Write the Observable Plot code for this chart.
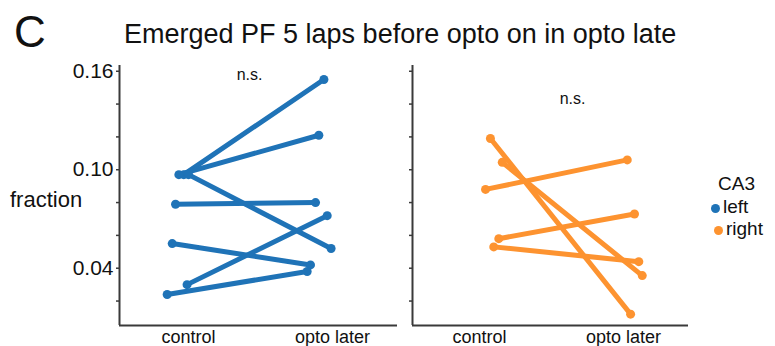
<!DOCTYPE html>
<html>
<head>
<meta charset="utf-8">
<script src="https://cdn.jsdelivr.net/npm/d3@7"></script>
<script src="https://cdn.jsdelivr.net/npm/@observablehq/plot@0.6"></script>
<style>
  body { margin: 0; background: #fff; font-family: "Liberation Sans", Arial, sans-serif; }
  #wrap { position: relative; width: 775px; height: 346px; overflow: hidden; }
  #wrap > * { position: absolute; }
  .lbl { color: #111; white-space: nowrap; line-height: normal; }
</style>
</head>
<body>
<div id="wrap">
  <div id="p1" style="left:0; top:0;"></div>
  <div id="p2" style="left:400px; top:0;"></div>
  <div class="lbl" style="left:14px; top:7px; font-size:44px;">C</div>
  <div class="lbl" style="left:124px; top:19px; font-size:27px;">Emerged PF 5 laps before opto on in opto late</div>
  <div class="lbl" style="left:10px; top:187px; font-size:22px;">fraction</div>
  <div id="legend" style="left:0; top:0;"></div>
</div>
<script>
// categories
const conditions = ["control", "opto later"];
const sides = ["left", "right"];
const legendTitle = "CA3";
const colors = ["#1f73b7", "#fd9330"];
const yTicks = [0.02, 0.04, 0.06, 0.08, 0.10, 0.12, 0.14, 0.16];
const yLabels = [0.04, 0.10, 0.16];

// left CA3: control -> opto later fraction per animal
const leftControl = [0.097, 0.097, 0.097, 0.079, 0.055, 0.030, 0.024];
const leftOpto    = [0.155, 0.121, 0.052, 0.080, 0.042, 0.072, 0.038];
const leftJitC    = [-0.033, -0.067, 0.0, -0.09, -0.113, -0.01, -0.148];
const leftJitO    = [-0.06, -0.095, -0.01, -0.118, -0.153, -0.037, -0.176];

// right CA3
const rightControl = [0.119, 0.1045, 0.088, 0.058, 0.053];
const rightOpto    = [0.012, 0.0355, 0.106, 0.073, 0.044];
const rightJitC    = [0.076, 0.158, 0.042, 0.134, 0.099];
const rightJitO    = [0.049, 0.130, 0.026, 0.076, 0.106];

const yDomain = [0.0051, 0.1635];

function rows(ctrl, opto, jc, jo) {
  const out = [];
  ctrl.forEach((v, i) => {
    out.push({id: i, x: 0 + jc[i], y: v});
    out.push({id: i, x: 1 + jo[i], y: opto[i]});
  });
  return out;
}

function panel(data, color, opts) {
  return Plot.plot({
    width: opts.width, height: 346,
    marginLeft: opts.ml, marginRight: opts.mr, marginTop: 65, marginBottom: 21,
    style: {fontFamily: "Liberation Sans, Arial, sans-serif", color: "#111", background: "transparent", overflow: "visible"},
    x: {domain: opts.xDomain, axis: null},
    y: {domain: yDomain, axis: null},
    marks: [
      Plot.ruleX([opts.xDomain[0]], {y1: yDomain[0], y2: yDomain[1], stroke: "#3a3a3a", strokeWidth: 2}),
      Plot.ruleY([yDomain[0]], {x1: opts.xDomain[0], x2: opts.xDomain[1], stroke: "#3a3a3a", strokeWidth: 2}),
      Plot.axisY({ticks: yTicks, tickSize: 3, tickPadding: 3, stroke: "#3a3a3a", strokeWidth: 1.5, fontSize: 21, label: null,
        tickFormat: d => opts.labels && yLabels.some(v => Math.abs(v - d) < 1e-9) ? d3.format(".2f")(d) : ""}),
      Plot.axisX({ticks: [0, 1], tickSize: 0, tickPadding: 5, fontSize: 18, label: null,
        tickFormat: d => conditions[Math.round(d)]}),
      Plot.line(data, {x: "x", y: "y", z: "id", stroke: color, strokeWidth: 5, strokeLinecap: "round"}),
      Plot.dot(data, {x: "x", y: "y", r: 4.5, fill: color}),
      Plot.text(["n.s."], {x: opts.ns[0], y: opts.ns[1], text: d => d, fontSize: 16, fill: "#111"})
    ]
  });
}

const p1 = panel(rows(leftControl, leftOpto, leftJitC, leftJitO), colors[0],
  {width: 400, ml: 119, mr: 3, xDomain: [-0.479, 1.451], labels: true, ns: [0.424, 0.1578]});
document.getElementById("p1").appendChild(p1);

const p2 = panel(rows(rightControl, rightOpto, rightJitC, rightJitO), colors[1],
  {width: 300, ml: 12, mr: 12, xDomain: [-0.465, 1.451], labels: false, ns: [0.646, 0.1432]});
document.getElementById("p2").appendChild(p2);

// legend
const lg = d3.select("#legend");
lg.append("div").attr("class", "lbl").text(legendTitle)
  .style("position", "absolute").style("left", "718px").style("top", "173px").style("font-size", "19px");
sides.forEach((s, i) => {
  const cy = 208 + i * 22.5;
  lg.append("div").style("position", "absolute").style("left", (711 + i * 3) + "px").style("top", (cy - 4.5) + "px")
    .style("width", "9px").style("height", "9px").style("border-radius", "50%").style("background", colors[i]);
  lg.append("div").attr("class", "lbl").text(s)
    .style("position", "absolute").style("left", (723 + i * 3) + "px").style("top", (cy - 12.5) + "px").style("font-size", "19px");
});
</script>
</body>
</html>
